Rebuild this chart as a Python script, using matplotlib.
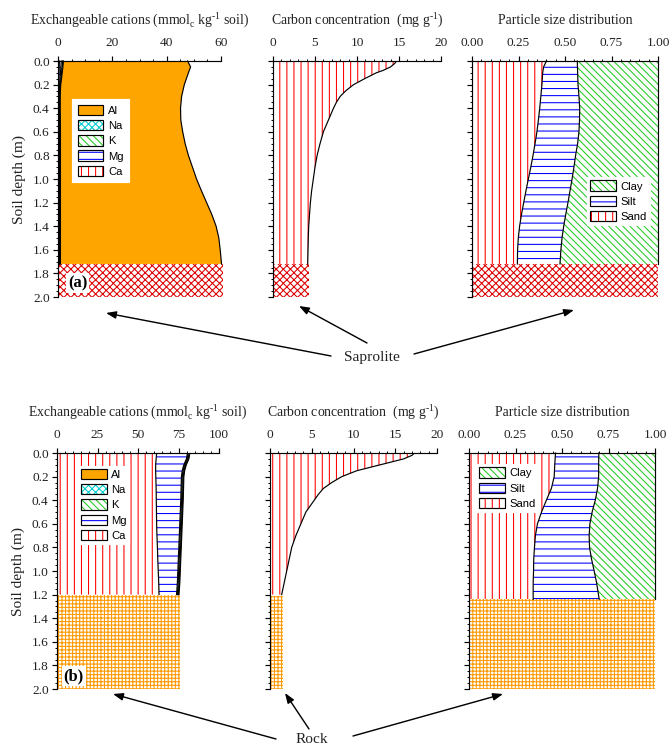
import numpy as np
import matplotlib
matplotlib.use('Agg')
import matplotlib.pyplot as plt
from matplotlib.patches import Patch, FancyArrowPatch
from matplotlib.ticker import MultipleLocator, FormatStrFormatter

plt.rcParams['font.family'] = ['Liberation Serif', 'DejaVu Serif']
plt.rcParams['mathtext.fontset'] = 'custom'
plt.rcParams['mathtext.rm'] = 'Liberation Serif'
plt.rcParams['hatch.linewidth'] = 0.9

# ---------------- data ----------------
# (a) saprolite profile
depth_a = [0.0, 0.05, 0.1, 0.2, 0.3, 0.4, 0.5, 0.6, 0.7, 0.8, 0.9, 1.0,
           1.1, 1.2, 1.3, 1.4, 1.5, 1.6, 1.72]
ca_a = [0.5, 0.45, 0.4, 0.3, 0.25, 0.25, 0.25, 0.3, 0.3, 0.3, 0.3, 0.3,
        0.3, 0.3, 0.3, 0.3, 0.3, 0.3, 0.3]
mg_a = [0.7, 0.6, 0.5, 0.3, 0.2, 0.2, 0.2, 0.2, 0.2, 0.2, 0.2, 0.2,
        0.2, 0.2, 0.2, 0.2, 0.2, 0.2, 0.2]
k_a = [0.5, 0.45, 0.4, 0.25, 0.2, 0.2, 0.2, 0.2, 0.2, 0.2, 0.2, 0.2,
       0.2, 0.2, 0.2, 0.2, 0.2, 0.2, 0.2]
na_a = [0.3, 0.3, 0.25, 0.15, 0.15, 0.15, 0.2, 0.2, 0.2, 0.2, 0.2, 0.2,
        0.2, 0.2, 0.2, 0.2, 0.2, 0.2, 0.2]
al_a = [45.7, 47.0, 46.45, 45.5, 44.7, 44.3, 44.35, 45.0, 45.9, 47.1, 48.6, 50.1,
        51.9, 53.8, 55.7, 57.3, 58.3, 58.8, 59.3]

depth_ac = [0.0, 0.02, 0.05, 0.08, 0.1, 0.125, 0.15, 0.2, 0.25, 0.3, 0.35, 0.4,
            0.5, 0.6, 0.7, 0.8, 0.9, 1.0, 1.1, 1.2, 1.3, 1.4, 1.5, 1.6, 1.72]
carbon_a = [14.7, 14.5, 14.0, 13.1, 12.3, 11.6, 10.9, 9.6, 8.7, 8.0, 7.55, 7.2,
            6.6, 6.0, 5.6, 5.25, 5.0, 4.8, 4.6, 4.45, 4.35, 4.25, 4.2, 4.17, 4.13]

sand_a = [0.400, 0.385, 0.380, 0.376, 0.370, 0.364, 0.357, 0.349, 0.339, 0.328,
          0.316, 0.303, 0.290, 0.278, 0.266, 0.256, 0.249, 0.245, 0.244]
silt_a = [0.166, 0.182, 0.188, 0.194, 0.205, 0.215, 0.221, 0.226, 0.229, 0.229,
          0.232, 0.235, 0.237, 0.238, 0.238, 0.237, 0.235, 0.233, 0.229]
clay_a = [0.434, 0.433, 0.432, 0.430, 0.425, 0.421, 0.422, 0.425, 0.432, 0.443,
          0.452, 0.462, 0.473, 0.484, 0.496, 0.507, 0.516, 0.522, 0.527]

# (b) rock profile
depth_b = [0.0, 0.05, 0.1, 0.15, 0.2, 0.3, 0.4, 0.5, 0.6, 0.7, 0.8, 0.9,
           1.0, 1.1, 1.2]
ca_b = [61.5, 61.2, 60.9, 60.9, 61.0, 61.2, 61.3, 61.4, 61.5, 61.7, 62.0, 62.2,
        62.5, 62.8, 63.0]
mg_b = [19.0, 18.7, 17.4, 16.4, 15.8, 15.4, 15.1, 14.7, 14.3, 13.8, 13.2, 12.7,
        12.1, 11.5, 10.8]
k_b = [0.5, 0.5, 0.5, 0.5, 0.5, 0.5, 0.5, 0.5, 0.5, 0.5, 0.5, 0.5, 0.5, 0.5, 0.5]
na_b = [0.6, 0.6, 0.6, 0.6, 0.6, 0.6, 0.6, 0.6, 0.6, 0.6, 0.6, 0.6, 0.6, 0.6, 0.6]
al_b = [0.4, 0.4, 0.4, 0.4, 0.4, 0.4, 0.4, 0.4, 0.4, 0.4, 0.4, 0.4, 0.4, 0.4, 0.4]

depth_bc = [0.0, 0.02, 0.05, 0.075, 0.1, 0.15, 0.2, 0.25, 0.3, 0.35, 0.4, 0.5,
            0.6, 0.7, 0.8, 0.9, 1.0, 1.1, 1.2]
carbon_b = [17.3, 17.0, 16.0, 14.6, 13.2, 10.4, 8.6, 7.4, 6.4, 5.8, 5.3, 4.3,
            3.7, 3.1, 2.6, 2.3, 2.0, 1.7, 1.4]

depth_bp = [0.0, 0.1, 0.2, 0.3, 0.4, 0.5, 0.6, 0.7, 0.8, 0.9, 1.0, 1.1, 1.24]
sand_b = [0.465, 0.461, 0.458, 0.443, 0.416, 0.390, 0.368, 0.357, 0.352, 0.348,
          0.347, 0.345, 0.345]
silt_b = [0.233, 0.236, 0.239, 0.248, 0.263, 0.272, 0.282, 0.289, 0.296, 0.311,
          0.326, 0.341, 0.355]
clay_b = [0.302, 0.303, 0.303, 0.309, 0.321, 0.338, 0.350, 0.354, 0.352, 0.341,
          0.327, 0.314, 0.300]

# substrate blocks: (top depth, horizontal extent)
saprolite_top = 1.72
saprolite_extent = [60.7, 4.25, 1.0]
rock_top = [1.20, 1.21, 1.24]
rock_extent = [75.8, 1.6, 1.0]

cation_labels = ['Al', 'Na', 'K', 'Mg', 'Ca']
texture_labels = ['Clay', 'Silt', 'Sand']

# ---------------- styles ----------------
ORANGE = '#FFA500'
STY = {
    'Ca': dict(fc='white', hc='red', hatch='||'),
    'Mg': dict(fc='white', hc='blue', hatch='--'),
    'K': dict(fc='white', hc='#22CC22', hatch='\\\\\\\\'),
    'Na': dict(fc='white', hc='#00CCCC', hatch='xxxx'),
    'Al': dict(fc=ORANGE, hc='none', hatch=None),
    'Sand': dict(fc='white', hc='red', hatch='||'),
    'Silt': dict(fc='white', hc='blue', hatch='--'),
    'Clay': dict(fc='white', hc='#22CC22', hatch='\\\\\\\\'),
}
SAP = dict(fc='white', hc='#DD0000', hatch='xxxx')
ROCK = dict(fc='white', hc='#FF9900', hatch='++++')

DPI = 85
W, H = 671, 747
fig = plt.figure(figsize=(W / DPI, H / DPI), dpi=DPI)


def rect(l, r, t, b):
    return [l / W, 1 - b / H, (r - l) / W, (b - t) / H]


TXT = '#222222'
TITLE_FS = 11.7
TICK_FS = 11.3


def style_axis(ax, xmax, major, minor, fmt, ylabels):
    ax.set_xlim(0, xmax)
    ax.set_ylim(2.0, 0.0)
    for s in ['right', 'bottom']:
        ax.spines[s].set_visible(False)
    for s in ['top', 'left']:
        ax.spines[s].set_linewidth(1.0)
    ax.xaxis.tick_top()
    ax.xaxis.set_major_locator(MultipleLocator(major))
    ax.xaxis.set_minor_locator(MultipleLocator(minor))
    ax.xaxis.set_major_formatter(FormatStrFormatter(fmt))
    ax.yaxis.set_major_locator(MultipleLocator(0.2))
    ax.yaxis.set_minor_locator(MultipleLocator(0.05))
    ax.yaxis.set_major_formatter(FormatStrFormatter('%.1f'))
    ax.tick_params(axis='both', which='major', direction='out', length=4,
                   width=1.0, labelsize=TICK_FS, labelcolor=TXT, pad=3)
    ax.tick_params(axis='x', which='major', pad=6)
    ax.tick_params(axis='both', which='minor', direction='out', length=2,
                   width=0.8)
    ax.tick_params(axis='y', labelleft=ylabels)
    ax.xaxis.set_label_position('top')


def fill_layer(ax, d, left, right, sty, clip=True):
    ax.fill_betweenx(d, left, right, facecolor=sty['fc'], edgecolor=sty['hc'],
                     hatch=sty['hatch'], linewidth=0, clip_on=clip, zorder=1)


def draw_stack(ax, d, layers, names, clip=True):
    cum = np.zeros(len(d))
    for vals, nm in zip(layers, names):
        v = np.asarray(vals)
        fill_layer(ax, d, cum, cum + v, STY[nm], clip)
        cum = cum + v
        ax.plot(cum, d, color='black', lw=1.0, zorder=3, clip_on=clip)


def draw_block(ax, top, extent, sty):
    ax.fill_betweenx([top, 2.0], 0, extent, facecolor=sty['fc'],
                     edgecolor=sty['hc'], hatch=sty['hatch'], linewidth=0,
                     clip_on=False, zorder=2)


def legend(ax, names, anchor, borderpad=0.5):
    handles = [(Patch(facecolor=STY[n]['fc'], edgecolor=STY[n]['hc'],
                      hatch=STY[n]['hatch'], linewidth=0),
                Patch(facecolor='none', edgecolor='black', linewidth=1.0))
               for n in names]
    lg = ax.legend(handles, names, loc='upper left', bbox_to_anchor=anchor,
                   frameon=True, fancybox=False, framealpha=1,
                   edgecolor='white', facecolor='white',
                   prop={'family': 'Liberation Sans', 'size': 9.5},
                   handlelength=2.3, handleheight=1.05, labelspacing=0.38,
                   handletextpad=0.4, borderpad=borderpad, borderaxespad=0)
    lg.set_zorder(5)


HY = '\u2010'
title_cat = (r'Exchangeable cations (mmol$_\mathregular{c}$ kg$^\mathregular{'
             + HY + r'1}$ soil)')
title_c = r'Carbon concentration  (mg g$^\mathregular{' + HY + r'1}$)'
title_p = 'Particle size distribution'
LP = 11

# ---- (a) row ----
ax1 = fig.add_axes(rect(58, 221, 61, 297))
style_axis(ax1, 60, 20, 5, '%d', True)
draw_stack(ax1, depth_a, [ca_a, mg_a, k_a, na_a, al_a],
           ['Ca', 'Mg', 'K', 'Na', 'Al'], clip=False)
draw_block(ax1, saprolite_top, saprolite_extent[0], SAP)
legend(ax1, cation_labels, (0.086, 0.839))
ax1.set_xlabel(title_cat, fontsize=TITLE_FS, color=TXT, labelpad=LP)
ax1.set_ylabel('Soil depth (m)', fontsize=13, color=TXT, labelpad=6)
ax1.text(0.06, 0.025, '(a)', transform=ax1.transAxes, fontsize=14,
         fontweight='bold', ha='left', va='bottom', zorder=6,
         bbox=dict(facecolor='white', edgecolor='none', pad=1.5))

ax2 = fig.add_axes(rect(273, 441, 61, 297))
style_axis(ax2, 20, 5, 1, '%d', False)
draw_stack(ax2, depth_ac, [carbon_a], ['Ca'])
draw_block(ax2, saprolite_top, saprolite_extent[1], SAP)
ax2.set_xlabel(title_c, fontsize=TITLE_FS, color=TXT, labelpad=LP)

ax3 = fig.add_axes(rect(472, 658, 61, 297))
style_axis(ax3, 1.0, 0.25, 0.05, '%.2f', False)
draw_stack(ax3, depth_a, [sand_a, silt_a, clay_a], ['Sand', 'Silt', 'Clay'],
           clip=False)
draw_block(ax3, saprolite_top, saprolite_extent[2], SAP)
legend(ax3, texture_labels, (0.618, 0.508), borderpad=0.3)
ax3.set_xlabel(title_p, fontsize=TITLE_FS, color=TXT, labelpad=LP)

# ---- (b) row ----
ax4 = fig.add_axes(rect(57, 219, 453, 689))
style_axis(ax4, 100, 25, 5, '%d', True)
draw_stack(ax4, depth_b, [ca_b, mg_b, k_b, na_b, al_b],
           ['Ca', 'Mg', 'K', 'Na', 'Al'])
draw_block(ax4, rock_top[0], rock_extent[0], ROCK)
legend(ax4, cation_labels, (0.13, 0.945), borderpad=0.25)
ax4.set_xlabel(title_cat, fontsize=TITLE_FS, color=TXT, labelpad=LP)
ax4.set_ylabel('Soil depth (m)', fontsize=13, color=TXT, labelpad=6)
ax4.text(0.04, 0.02, '(b)', transform=ax4.transAxes, fontsize=14,
         fontweight='bold', ha='left', va='bottom', zorder=6,
         bbox=dict(facecolor='white', edgecolor='none', pad=1.5))

ax5 = fig.add_axes(rect(270, 437, 453, 689))
style_axis(ax5, 20, 5, 1, '%d', False)
draw_stack(ax5, depth_bc, [carbon_b], ['Ca'])
draw_block(ax5, rock_top[1], rock_extent[1], ROCK)
ax5.set_xlabel(title_c, fontsize=TITLE_FS, color=TXT, labelpad=LP)

ax6 = fig.add_axes(rect(469, 655, 453, 689))
style_axis(ax6, 1.0, 0.25, 0.05, '%.2f', False)
draw_stack(ax6, depth_bp, [sand_b, silt_b, clay_b], ['Sand', 'Silt', 'Clay'],
           clip=False)
draw_block(ax6, rock_top[2], rock_extent[2], ROCK)
legend(ax6, texture_labels, (0.038, 0.953), borderpad=0.3)
ax6.set_xlabel(title_p, fontsize=TITLE_FS, color=TXT, labelpad=LP)


# ---- annotations ----
def fxy(px, py):
    return (px / W, 1 - py / H)


def callout(label, center, tails, heads):
    fig.text(*fxy(*center), label, ha='center', va='center', fontsize=13,
             color=TXT)
    for t, h in zip(tails, heads):
        fig.add_artist(FancyArrowPatch(
            fxy(*t), fxy(*h), transform=fig.transFigure,
            arrowstyle='-|>,head_length=7,head_width=2.6', mutation_scale=1,
            color='black', lw=1.2, shrinkA=0, shrinkB=0))


callout('Saprolite', (372, 357),
        [(331, 356), (367, 343), (414, 354)],
        [(106, 313), (299, 306), (574, 310)])
callout('Rock', (312, 739),
        [(276, 739), (309, 729), (353, 736)],
        [(113, 694), (285, 693), (503, 694)])

fig.savefig('out.png', dpi=DPI)
